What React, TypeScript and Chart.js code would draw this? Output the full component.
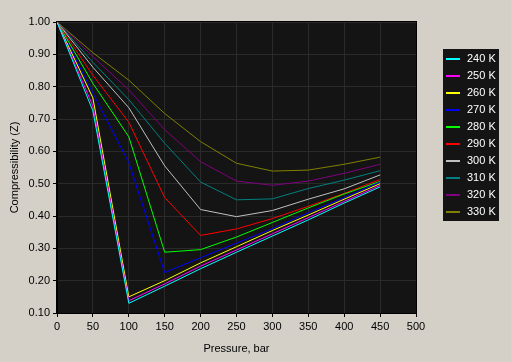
import React, { useEffect, useRef } from "react";
import { Chart, registerables } from "chart.js";

Chart.register(...registerables);

const pressures = [0, 50, 100, 150, 200, 250, 300, 350, 400, 450];
const seriesLabels = ["240 K", "250 K", "260 K", "270 K", "280 K", "290 K", "300 K", "310 K", "320 K", "330 K"];
const seriesColors = ["#00ffff", "#ff00ff", "#ffff00", "#0000ff", "#00ff00", "#ff0000", "#c0c0c0", "#008080", "#800080", "#808000"];

const z240 = [1.0, 0.725, 0.13, 0.183, 0.237, 0.288, 0.338, 0.388, 0.44, 0.49];
const z250 = [1.0, 0.74, 0.138, 0.19, 0.245, 0.295, 0.345, 0.395, 0.445, 0.495];
const z260 = [1.0, 0.765, 0.15, 0.2, 0.255, 0.305, 0.355, 0.403, 0.452, 0.5];
const z270 = [1.0, 0.78, 0.565, 0.225, 0.271, 0.316, 0.361, 0.41, 0.457, 0.505];
const z280 = [1.0, 0.81, 0.645, 0.288, 0.296, 0.335, 0.38, 0.425, 0.468, 0.507];
const z290 = [1.0, 0.835, 0.69, 0.457, 0.34, 0.36, 0.392, 0.43, 0.47, 0.513];
const z300 = [1.0, 0.86, 0.735, 0.555, 0.42, 0.398, 0.417, 0.452, 0.484, 0.527];
const z310 = [1.0, 0.875, 0.76, 0.625, 0.505, 0.45, 0.453, 0.485, 0.511, 0.54];
const z320 = [1.0, 0.893, 0.79, 0.667, 0.568, 0.508, 0.495, 0.508, 0.532, 0.56];
const z330 = [1.0, 0.905, 0.82, 0.717, 0.63, 0.563, 0.539, 0.542, 0.56, 0.582];

const allSeries = [z240, z250, z260, z270, z280, z290, z300, z310, z320, z330];

const FONT = '"Liberation Sans", Arial, sans-serif';

const bgPlugin = {
  id: "bgPlugin",
  beforeDraw(chart: any) {
    const { ctx, chartArea, width, height } = chart;
    ctx.save();
    ctx.fillStyle = "#d4d0c8";
    ctx.fillRect(0, 0, width, height);
    ctx.fillStyle = "#141414";
    ctx.fillRect(chartArea.left, chartArea.top, chartArea.right - chartArea.left, chartArea.bottom - chartArea.top);
    ctx.restore();
  },
  afterDraw(chart: any) {
    const { ctx, chartArea } = chart;
    ctx.save();
    ctx.strokeStyle = "#000000";
    ctx.lineWidth = 1;
    ctx.strokeRect(
      Math.round(chartArea.left) - 0.5,
      Math.round(chartArea.top) - 0.5,
      Math.round(chartArea.right - chartArea.left) + 1,
      Math.round(chartArea.bottom - chartArea.top) + 1
    );
    // legend
    const x0 = Math.round(chartArea.right) + 27;
    const y0 = Math.round(chartArea.top) + 27;
    const rowH = 17;
    const n = seriesLabels.length;
    ctx.fillStyle = "#141414";
    ctx.fillRect(x0, y0, 56, n * rowH + 2);
    seriesLabels.forEach((label, i) => {
      const y = y0 + 10 + i * rowH;
      ctx.strokeStyle = seriesColors[i];
      ctx.lineWidth = 2;
      ctx.beginPath();
      ctx.moveTo(x0 + 3, y);
      ctx.lineTo(x0 + 17, y);
      ctx.stroke();
      ctx.fillStyle = "#ffffff";
      ctx.font = "11px " + FONT;
      ctx.textBaseline = "middle";
      ctx.textAlign = "left";
      ctx.fillText(label, x0 + 24, y);
    });
    ctx.restore();
  },
};

export default function App() {
  const canvasRef = useRef<HTMLCanvasElement | null>(null);

  useEffect(() => {
    document.body.style.margin = "0";
    document.body.style.background = "#d4d0c8";
    const canvas = canvasRef.current;
    if (!canvas) return;
    Chart.defaults.font.family = FONT;
    Chart.defaults.font.size = 11;
    Chart.defaults.color = "#000000";

    const datasets = allSeries.map((vals, i) => ({
      label: seriesLabels[i],
      data: pressures.map((p, j) => ({ x: p, y: vals[j] })),
      borderColor: seriesColors[i],
      backgroundColor: seriesColors[i],
      borderWidth: 1,
      pointRadius: 0,
      tension: 0,
      fill: false,
    }));

    const chart = new Chart(canvas, {
      type: "line",
      data: { datasets: datasets as any },
      options: {
        animation: false,
        responsive: false,
        devicePixelRatio: 1,
        layout: { padding: { top: 22, right: 95, left: 0, bottom: 0 } },
        plugins: {
          legend: { display: false },
          tooltip: { enabled: false },
        },
        scales: {
          x: {
            type: "linear",
            min: 0,
            max: 500,
            ticks: { stepSize: 50, padding: 3, color: "#000", font: { size: 11, family: FONT } },
            grid: { color: "#2a2a2a", tickColor: "#000000", tickLength: 4 },
            border: { display: true, color: "#000000" },
            title: { display: true, text: "Pressure, bar", color: "#000", font: { size: 11, family: FONT }, padding: { top: 0, bottom: 6 } },
            afterFit: (scale: any) => {
              scale.height = 49;
            },
          },
          y: {
            type: "linear",
            min: 0.1,
            max: 1.0,
            ticks: {
              stepSize: 0.1,
              padding: 3,
              color: "#000",
              font: { size: 11, family: FONT },
              callback: (v: any) => Number(v).toFixed(2),
            },
            grid: { color: "#2a2a2a", tickColor: "#000000", tickLength: 4 },
            border: { display: true, color: "#000000" },
            title: { display: true, text: "Compressibility (Z)", color: "#000", font: { size: 11, family: FONT }, padding: { top: 8, bottom: 0 } },
            afterFit: (scale: any) => {
              scale.width = 57;
            },
          },
        },
      },
      plugins: [bgPlugin],
    });

    return () => chart.destroy();
  }, []);

  return (
    <div style={{ width: 511, height: 362, background: "#d4d0c8" }}>
      <canvas ref={canvasRef} width={511} height={362} style={{ display: "block" }} />
    </div>
  );
}
